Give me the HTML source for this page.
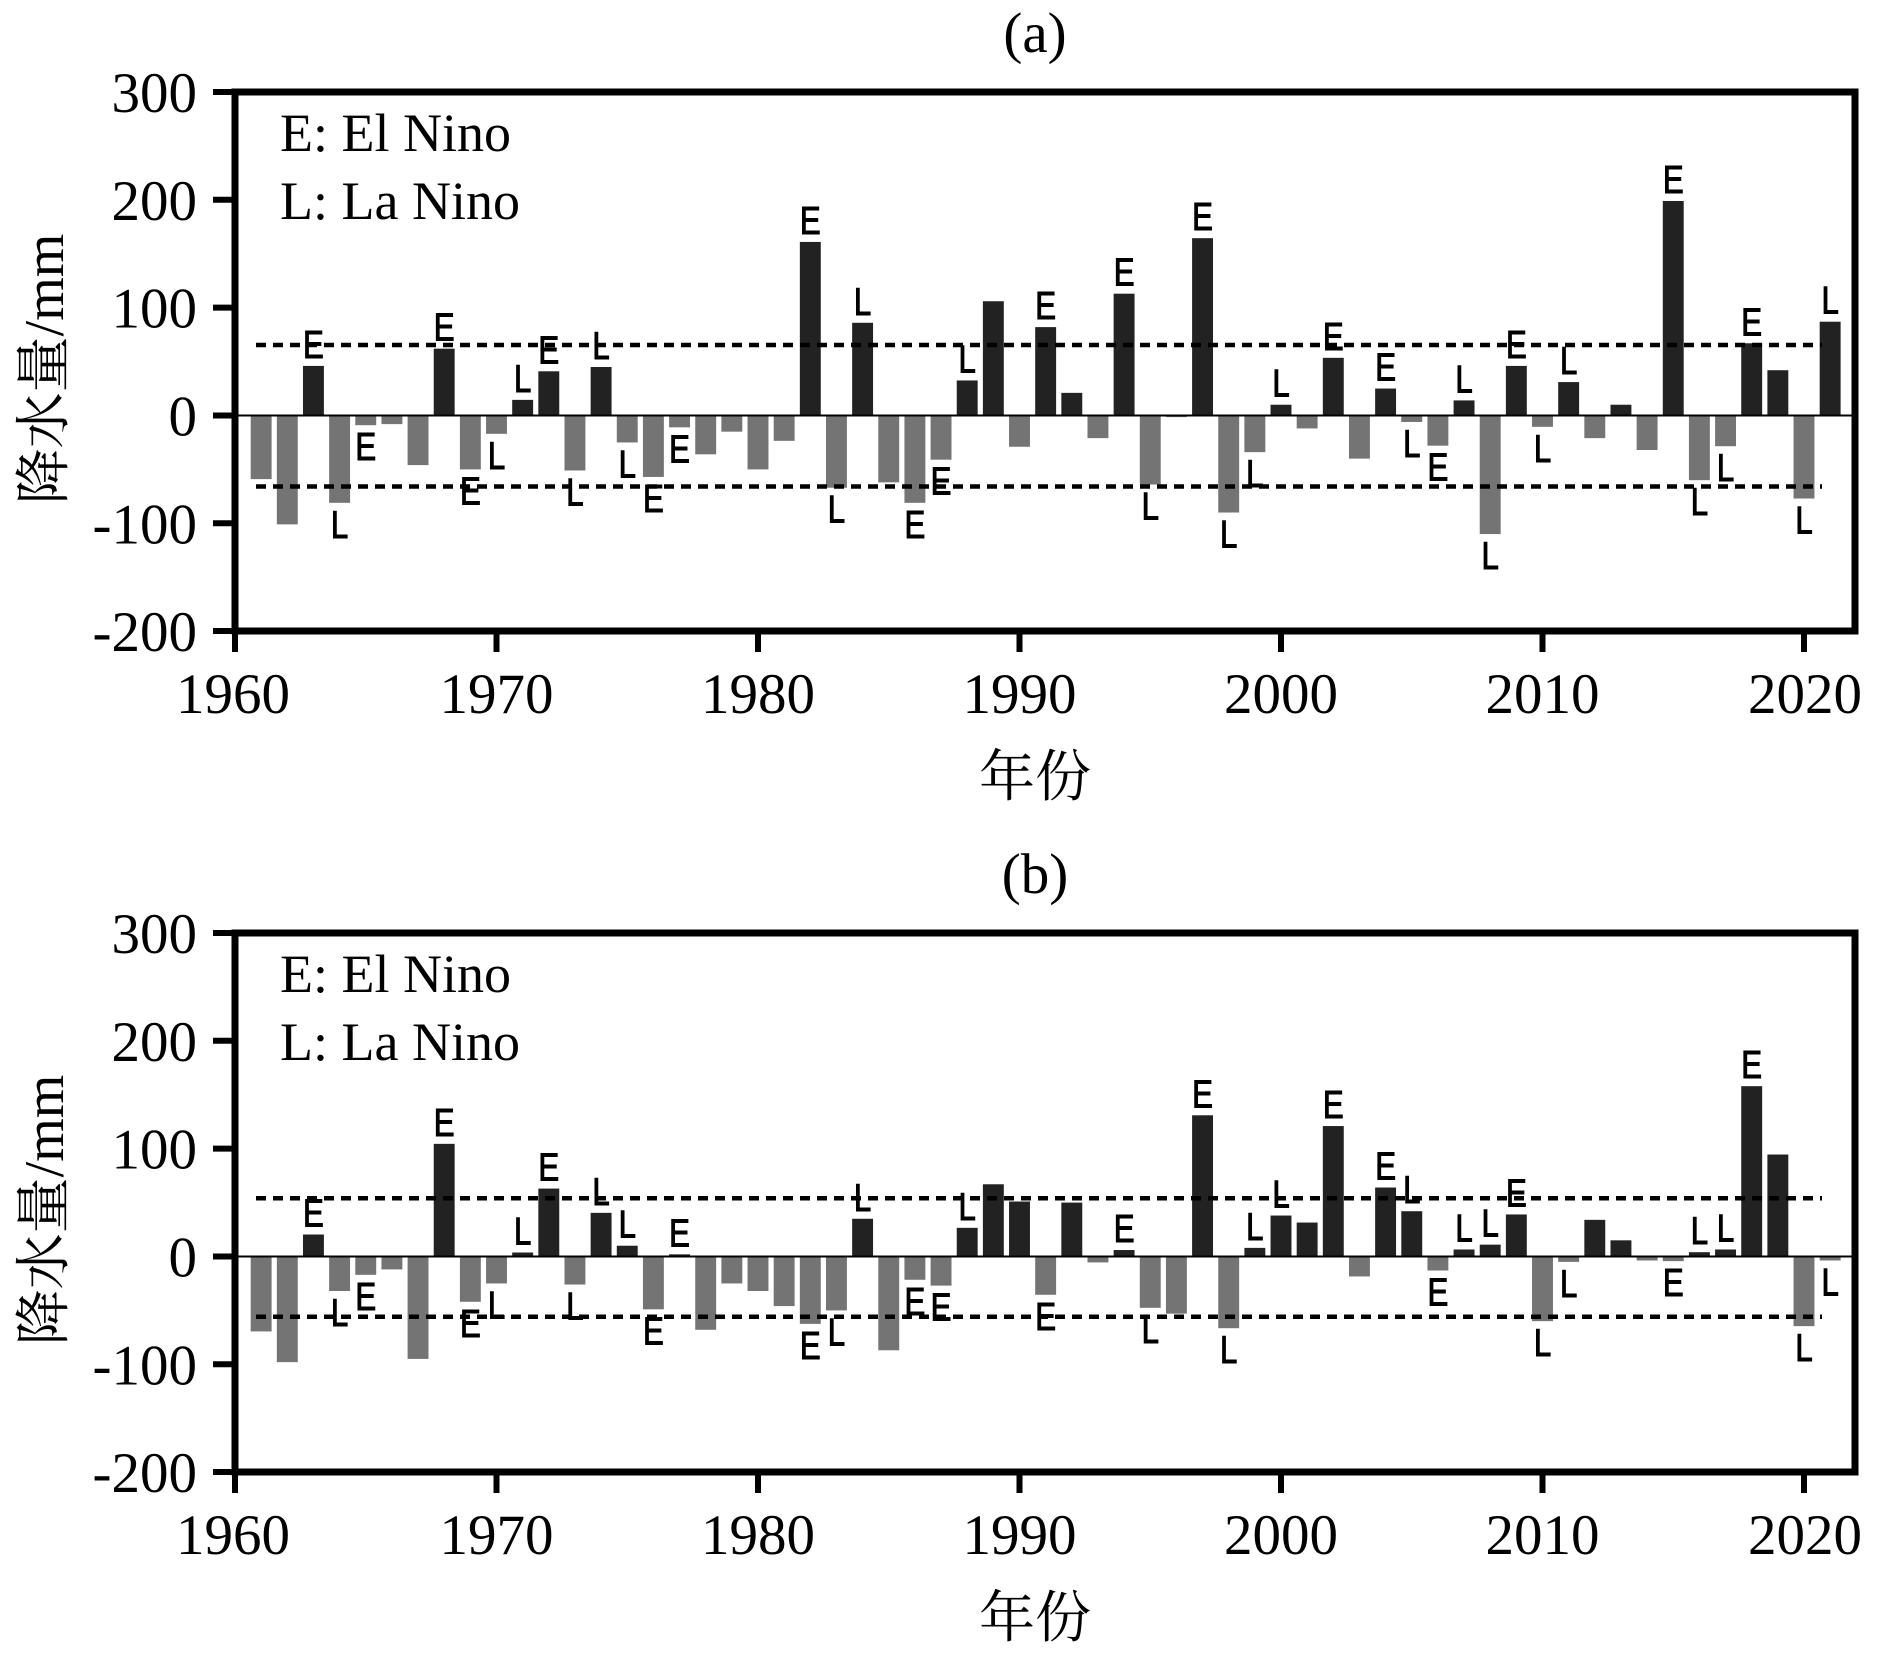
<!DOCTYPE html>
<html><head><meta charset="utf-8"><style>
html,body{margin:0;padding:0;background:#fff}
svg{display:block}
.p{fill:#222}
.n{fill:#747474}
.tk{font-family:"Liberation Serif","Noto Serif CJK SC",serif;font-size:57px;fill:#000}
.lg{font-family:"Liberation Serif",serif;font-size:54px;fill:#000}
.cj{font-family:"Liberation Serif","Noto Serif CJK SC",serif;font-size:56px;fill:#000}
.el{font-family:"Liberation Sans","DejaVu Sans",sans-serif;font-size:39px;fill:#000;stroke:#000;stroke-width:1.1px;text-anchor:middle}
</style></head><body>
<svg width="1882" height="1658" viewBox="0 0 1882 1658" xmlns="http://www.w3.org/2000/svg">
<rect width="1882" height="1658" fill="#fff"/>

<!-- ================= PANEL A ================= -->
<g>
<text x="1035" y="52" class="tk" font-size="55" text-anchor="middle">(a)</text>
<g transform="translate(235,415.5) scale(26.15,-1.078)">
<rect x="0.6" y="-59" width="0.8" height="59" class="n"/>
<rect x="1.6" y="-101" width="0.8" height="101" class="n"/>
<rect x="2.6" y="0" width="0.8" height="46" class="p"/>
<rect x="3.6" y="-81" width="0.8" height="81" class="n"/>
<rect x="4.6" y="-9" width="0.8" height="9" class="n"/>
<rect x="5.6" y="-8" width="0.8" height="8" class="n"/>
<rect x="6.6" y="-46" width="0.8" height="46" class="n"/>
<rect x="7.6" y="0" width="0.8" height="62" class="p"/>
<rect x="8.6" y="-50" width="0.8" height="50" class="n"/>
<rect x="9.6" y="-17" width="0.8" height="17" class="n"/>
<rect x="10.6" y="0" width="0.8" height="14.5" class="p"/>
<rect x="11.6" y="0" width="0.8" height="41" class="p"/>
<rect x="12.6" y="-51" width="0.8" height="51" class="n"/>
<rect x="13.6" y="0" width="0.8" height="45" class="p"/>
<rect x="14.6" y="-25" width="0.8" height="25" class="n"/>
<rect x="15.6" y="-57" width="0.8" height="57" class="n"/>
<rect x="16.6" y="-11" width="0.8" height="11" class="n"/>
<rect x="17.6" y="-36" width="0.8" height="36" class="n"/>
<rect x="18.6" y="-15" width="0.8" height="15" class="n"/>
<rect x="19.6" y="-50" width="0.8" height="50" class="n"/>
<rect x="20.6" y="-23.5" width="0.8" height="23.5" class="n"/>
<rect x="21.6" y="0" width="0.8" height="161" class="p"/>
<rect x="22.6" y="-67" width="0.8" height="67" class="n"/>
<rect x="23.6" y="0" width="0.8" height="86" class="p"/>
<rect x="24.6" y="-62" width="0.8" height="62" class="n"/>
<rect x="25.6" y="-81" width="0.8" height="81" class="n"/>
<rect x="26.6" y="-41" width="0.8" height="41" class="n"/>
<rect x="27.6" y="0" width="0.8" height="32.5" class="p"/>
<rect x="28.6" y="0" width="0.8" height="106" class="p"/>
<rect x="29.6" y="-29" width="0.8" height="29" class="n"/>
<rect x="30.6" y="0" width="0.8" height="82" class="p"/>
<rect x="31.6" y="0" width="0.8" height="21" class="p"/>
<rect x="32.6" y="-21" width="0.8" height="21" class="n"/>
<rect x="33.6" y="0" width="0.8" height="113" class="p"/>
<rect x="34.6" y="-64" width="0.8" height="64" class="n"/>
<rect x="35.6" y="-1.5" width="0.8" height="1.5" class="n"/>
<rect x="36.6" y="0" width="0.8" height="164.5" class="p"/>
<rect x="37.6" y="-90" width="0.8" height="90" class="n"/>
<rect x="38.6" y="-34" width="0.8" height="34" class="n"/>
<rect x="39.6" y="0" width="0.8" height="10" class="p"/>
<rect x="40.6" y="-12" width="0.8" height="12" class="n"/>
<rect x="41.6" y="0" width="0.8" height="53.5" class="p"/>
<rect x="42.6" y="-40" width="0.8" height="40" class="n"/>
<rect x="43.6" y="0" width="0.8" height="25" class="p"/>
<rect x="44.6" y="-6" width="0.8" height="6" class="n"/>
<rect x="45.6" y="-28" width="0.8" height="28" class="n"/>
<rect x="46.6" y="0" width="0.8" height="14" class="p"/>
<rect x="47.6" y="-110" width="0.8" height="110" class="n"/>
<rect x="48.6" y="0" width="0.8" height="46" class="p"/>
<rect x="49.6" y="-10.5" width="0.8" height="10.5" class="n"/>
<rect x="50.6" y="0" width="0.8" height="31" class="p"/>
<rect x="51.6" y="-21" width="0.8" height="21" class="n"/>
<rect x="52.6" y="0" width="0.8" height="10" class="p"/>
<rect x="53.6" y="-32" width="0.8" height="32" class="n"/>
<rect x="54.6" y="0" width="0.8" height="199" class="p"/>
<rect x="55.6" y="-60" width="0.8" height="60" class="n"/>
<rect x="56.6" y="-28.5" width="0.8" height="28.5" class="n"/>
<rect x="57.6" y="0" width="0.8" height="67" class="p"/>
<rect x="58.6" y="0" width="0.8" height="42" class="p"/>
<rect x="59.6" y="-77" width="0.8" height="77" class="n"/>
<rect x="60.6" y="0" width="0.8" height="87" class="p"/>
</g>
<line x1="238" y1="415.5" x2="1852" y2="415.5" stroke="#000" stroke-width="2"/>
<line x1="256" y1="345" x2="1822" y2="345" stroke="#000" stroke-width="4.5" stroke-dasharray="10 7"/>
<line x1="256" y1="486.5" x2="1822" y2="486.5" stroke="#000" stroke-width="4.5" stroke-dasharray="10 7"/>

<text class="el" transform="translate(313.45,357.9) scale(0.8,1)">E</text>
<text class="el" transform="translate(339.6,537.8) scale(0.8,1)">L</text>
<text class="el" transform="translate(365.75,460.2) scale(0.8,1)">E</text>
<text class="el" transform="translate(444.2,340.7) scale(0.8,1)">E</text>
<text class="el" transform="translate(470.35,504.4) scale(0.8,1)">E</text>
<text class="el" transform="translate(496.5,468.8) scale(0.8,1)">L</text>
<text class="el" transform="translate(522.65,391.9) scale(0.8,1)">L</text>
<text class="el" transform="translate(548.8,363.3) scale(0.8,1)">E</text>
<text class="el" transform="translate(574.95,505.5) scale(0.8,1)">L</text>
<text class="el" transform="translate(601.1,359) scale(0.8,1)">L</text>
<text class="el" transform="translate(627.25,477.5) scale(0.8,1)">L</text>
<text class="el" transform="translate(653.4,511.9) scale(0.8,1)">E</text>
<text class="el" transform="translate(679.55,462.4) scale(0.8,1)">E</text>
<text class="el" transform="translate(810.3,233.9) scale(0.8,1)">E</text>
<text class="el" transform="translate(836.45,522.7) scale(0.8,1)">L</text>
<text class="el" transform="translate(862.6,314.8) scale(0.8,1)">L</text>
<text class="el" transform="translate(914.9,537.8) scale(0.8,1)">E</text>
<text class="el" transform="translate(941.05,494.7) scale(0.8,1)">E</text>
<text class="el" transform="translate(967.2,372.5) scale(0.8,1)">L</text>
<text class="el" transform="translate(1045.65,319.1) scale(0.8,1)">E</text>
<text class="el" transform="translate(1124.1,285.7) scale(0.8,1)">E</text>
<text class="el" transform="translate(1150.25,519.5) scale(0.8,1)">L</text>
<text class="el" transform="translate(1202.55,230.2) scale(0.8,1)">E</text>
<text class="el" transform="translate(1228.7,547.5) scale(0.8,1)">L</text>
<text class="el" transform="translate(1254.85,487.2) scale(0.8,1)">L</text>
<text class="el" transform="translate(1281,396.7) scale(0.8,1)">L</text>
<text class="el" transform="translate(1333.3,349.8) scale(0.8,1)">E</text>
<text class="el" transform="translate(1385.6,380.5) scale(0.8,1)">E</text>
<text class="el" transform="translate(1411.75,457) scale(0.8,1)">L</text>
<text class="el" transform="translate(1437.9,480.7) scale(0.8,1)">E</text>
<text class="el" transform="translate(1464.05,392.4) scale(0.8,1)">L</text>
<text class="el" transform="translate(1490.2,569.1) scale(0.8,1)">L</text>
<text class="el" transform="translate(1516.35,357.9) scale(0.8,1)">E</text>
<text class="el" transform="translate(1542.5,461.8) scale(0.8,1)">L</text>
<text class="el" transform="translate(1568.65,374.1) scale(0.8,1)">L</text>
<text class="el" transform="translate(1673.25,193) scale(0.8,1)">E</text>
<text class="el" transform="translate(1699.4,515.2) scale(0.8,1)">L</text>
<text class="el" transform="translate(1725.55,481.2) scale(0.8,1)">L</text>
<text class="el" transform="translate(1751.7,335.3) scale(0.8,1)">E</text>
<text class="el" transform="translate(1804,533.5) scale(0.8,1)">L</text>
<text class="el" transform="translate(1830.15,313.7) scale(0.8,1)">L</text>

<rect x="235" y="92" width="1620" height="539" fill="none" stroke="#000" stroke-width="7"/>
<g stroke="#000" stroke-width="6">
<line x1="213" y1="92" x2="235" y2="92"/>
<line x1="213" y1="199.8" x2="235" y2="199.8"/>
<line x1="213" y1="307.6" x2="235" y2="307.6"/>
<line x1="213" y1="415.5" x2="235" y2="415.5"/>
<line x1="213" y1="523.3" x2="235" y2="523.3"/>
<line x1="213" y1="631" x2="235" y2="631"/>
<line x1="235" y1="631" x2="235" y2="652"/>
<line x1="496.5" y1="631" x2="496.5" y2="652"/>
<line x1="758" y1="631" x2="758" y2="652"/>
<line x1="1019.5" y1="631" x2="1019.5" y2="652"/>
<line x1="1281" y1="631" x2="1281" y2="652"/>
<line x1="1542.5" y1="631" x2="1542.5" y2="652"/>
<line x1="1804" y1="631" x2="1804" y2="652"/>
</g>
<g class="tk" text-anchor="end">
<text x="197" y="112">300</text>
<text x="197" y="219.8">200</text>
<text x="197" y="327.6">100</text>
<text x="197" y="435.5">0</text>
<text x="197" y="543.3">-100</text>
<text x="197" y="651">-200</text>
</g>
<g class="tk" text-anchor="middle">
<text x="233" y="713">1960</text>
<text x="496.5" y="713">1970</text>
<text x="758" y="713">1980</text>
<text x="1019.5" y="713">1990</text>
<text x="1281" y="713">2000</text>
<text x="1542.5" y="713">2010</text>
<text x="1805" y="713">2020</text>
</g>
<text x="280" y="151" class="lg">E: El Nino</text>
<text x="280" y="219" class="lg">L: La Nino</text>
<text x="1035" y="796" class="cj" text-anchor="middle">年份</text>
<text class="cj" text-anchor="middle" transform="translate(63,369) rotate(-90)">降水量/mm</text>
</g>

<!-- ================= PANEL B ================= -->
<g transform="translate(0,841)">
<text x="1035" y="52" class="tk" font-size="55" text-anchor="middle">(b)</text>
<g transform="translate(235,415.5) scale(26.15,-1.078)">
<rect x="0.6" y="-69.5" width="0.8" height="69.5" class="n"/>
<rect x="1.6" y="-98" width="0.8" height="98" class="n"/>
<rect x="2.6" y="0" width="0.8" height="20.4" class="p"/>
<rect x="3.6" y="-32" width="0.8" height="32" class="n"/>
<rect x="4.6" y="-17" width="0.8" height="17" class="n"/>
<rect x="5.6" y="-12" width="0.8" height="12" class="n"/>
<rect x="6.6" y="-95" width="0.8" height="95" class="n"/>
<rect x="7.6" y="0" width="0.8" height="104.5" class="p"/>
<rect x="8.6" y="-42" width="0.8" height="42" class="n"/>
<rect x="9.6" y="-25" width="0.8" height="25" class="n"/>
<rect x="10.6" y="0" width="0.8" height="3.7" class="p"/>
<rect x="11.6" y="0" width="0.8" height="63" class="p"/>
<rect x="12.6" y="-26" width="0.8" height="26" class="n"/>
<rect x="13.6" y="0" width="0.8" height="40.5" class="p"/>
<rect x="14.6" y="0" width="0.8" height="10" class="p"/>
<rect x="15.6" y="-49" width="0.8" height="49" class="n"/>
<rect x="16.6" y="0" width="0.8" height="2" class="p"/>
<rect x="17.6" y="-68" width="0.8" height="68" class="n"/>
<rect x="18.6" y="-25" width="0.8" height="25" class="n"/>
<rect x="19.6" y="-32" width="0.8" height="32" class="n"/>
<rect x="20.6" y="-46" width="0.8" height="46" class="n"/>
<rect x="21.6" y="-62.5" width="0.8" height="62.5" class="n"/>
<rect x="22.6" y="-50" width="0.8" height="50" class="n"/>
<rect x="23.6" y="0" width="0.8" height="35" class="p"/>
<rect x="24.6" y="-87" width="0.8" height="87" class="n"/>
<rect x="25.6" y="-21.6" width="0.8" height="21.6" class="n"/>
<rect x="26.6" y="-27" width="0.8" height="27" class="n"/>
<rect x="27.6" y="0" width="0.8" height="26.6" class="p"/>
<rect x="28.6" y="0" width="0.8" height="67" class="p"/>
<rect x="29.6" y="0" width="0.8" height="51" class="p"/>
<rect x="30.6" y="-35.5" width="0.8" height="35.5" class="n"/>
<rect x="31.6" y="0" width="0.8" height="50" class="p"/>
<rect x="32.6" y="-5.5" width="0.8" height="5.5" class="n"/>
<rect x="33.6" y="0" width="0.8" height="6" class="p"/>
<rect x="34.6" y="-47.6" width="0.8" height="47.6" class="n"/>
<rect x="35.6" y="-53" width="0.8" height="53" class="n"/>
<rect x="36.6" y="0" width="0.8" height="131" class="p"/>
<rect x="37.6" y="-66.5" width="0.8" height="66.5" class="n"/>
<rect x="38.6" y="0" width="0.8" height="8" class="p"/>
<rect x="39.6" y="0" width="0.8" height="38" class="p"/>
<rect x="40.6" y="0" width="0.8" height="31.5" class="p"/>
<rect x="41.6" y="0" width="0.8" height="121" class="p"/>
<rect x="42.6" y="-18.5" width="0.8" height="18.5" class="n"/>
<rect x="43.6" y="0" width="0.8" height="64" class="p"/>
<rect x="44.6" y="0" width="0.8" height="42" class="p"/>
<rect x="45.6" y="-13" width="0.8" height="13" class="n"/>
<rect x="46.6" y="0" width="0.8" height="6.5" class="p"/>
<rect x="47.6" y="0" width="0.8" height="11" class="p"/>
<rect x="48.6" y="0" width="0.8" height="39" class="p"/>
<rect x="49.6" y="-60" width="0.8" height="60" class="n"/>
<rect x="50.6" y="-5" width="0.8" height="5" class="n"/>
<rect x="51.6" y="0" width="0.8" height="34" class="p"/>
<rect x="52.6" y="0" width="0.8" height="15" class="p"/>
<rect x="53.6" y="-3.7" width="0.8" height="3.7" class="n"/>
<rect x="54.6" y="-4.3" width="0.8" height="4.3" class="n"/>
<rect x="55.6" y="0" width="0.8" height="4" class="p"/>
<rect x="56.6" y="0" width="0.8" height="6.5" class="p"/>
<rect x="57.6" y="0" width="0.8" height="158" class="p"/>
<rect x="58.6" y="0" width="0.8" height="94.6" class="p"/>
<rect x="59.6" y="-64.6" width="0.8" height="64.6" class="n"/>
<rect x="60.6" y="-3.7" width="0.8" height="3.7" class="n"/>
</g>
<line x1="238" y1="415.5" x2="1852" y2="415.5" stroke="#000" stroke-width="2"/>
<line x1="256" y1="357.3" x2="1822" y2="357.3" stroke="#000" stroke-width="4.5" stroke-dasharray="10 7"/>
<line x1="256" y1="475.7" x2="1822" y2="475.7" stroke="#000" stroke-width="4.5" stroke-dasharray="10 7"/>

<text class="el" transform="translate(313.45,385.5) scale(0.8,1)">E</text>
<text class="el" transform="translate(339.6,485) scale(0.8,1)">L</text>
<text class="el" transform="translate(365.75,468.8) scale(0.8,1)">E</text>
<text class="el" transform="translate(444.2,294.8) scale(0.8,1)">E</text>
<text class="el" transform="translate(470.35,495.8) scale(0.8,1)">E</text>
<text class="el" transform="translate(496.5,477.5) scale(0.8,1)">L</text>
<text class="el" transform="translate(522.65,403.5) scale(0.8,1)">L</text>
<text class="el" transform="translate(548.8,339.6) scale(0.8,1)">E</text>
<text class="el" transform="translate(574.95,478.5) scale(0.8,1)">L</text>
<text class="el" transform="translate(601.1,363.8) scale(0.8,1)">L</text>
<text class="el" transform="translate(627.25,396.7) scale(0.8,1)">L</text>
<text class="el" transform="translate(653.4,503.3) scale(0.8,1)">E</text>
<text class="el" transform="translate(679.55,405.3) scale(0.8,1)">E</text>
<text class="el" transform="translate(810.3,517.9) scale(0.8,1)">E</text>
<text class="el" transform="translate(836.45,504.4) scale(0.8,1)">L</text>
<text class="el" transform="translate(862.6,369.8) scale(0.8,1)">L</text>
<text class="el" transform="translate(914.9,473.8) scale(0.8,1)">E</text>
<text class="el" transform="translate(941.05,479.6) scale(0.8,1)">E</text>
<text class="el" transform="translate(967.2,378.8) scale(0.8,1)">L</text>
<text class="el" transform="translate(1045.65,488.8) scale(0.8,1)">E</text>
<text class="el" transform="translate(1124.1,401) scale(0.8,1)">E</text>
<text class="el" transform="translate(1150.25,501.8) scale(0.8,1)">L</text>
<text class="el" transform="translate(1202.55,266.3) scale(0.8,1)">E</text>
<text class="el" transform="translate(1228.7,522.2) scale(0.8,1)">L</text>
<text class="el" transform="translate(1254.85,398.9) scale(0.8,1)">L</text>
<text class="el" transform="translate(1281,366.5) scale(0.8,1)">L</text>
<text class="el" transform="translate(1333.3,277.1) scale(0.8,1)">E</text>
<text class="el" transform="translate(1385.6,338.5) scale(0.8,1)">E</text>
<text class="el" transform="translate(1411.75,362.2) scale(0.8,1)">L</text>
<text class="el" transform="translate(1437.9,464.5) scale(0.8,1)">E</text>
<text class="el" transform="translate(1464.05,400.5) scale(0.8,1)">L</text>
<text class="el" transform="translate(1490.2,395.6) scale(0.8,1)">L</text>
<text class="el" transform="translate(1516.35,365.5) scale(0.8,1)">E</text>
<text class="el" transform="translate(1542.5,515.2) scale(0.8,1)">L</text>
<text class="el" transform="translate(1568.65,455.9) scale(0.8,1)">L</text>
<text class="el" transform="translate(1673.25,455.1) scale(0.8,1)">E</text>
<text class="el" transform="translate(1699.4,403.2) scale(0.8,1)">L</text>
<text class="el" transform="translate(1725.55,400.5) scale(0.8,1)">L</text>
<text class="el" transform="translate(1751.7,237.2) scale(0.8,1)">E</text>
<text class="el" transform="translate(1804,520.1) scale(0.8,1)">L</text>
<text class="el" transform="translate(1830.15,454.5) scale(0.8,1)">L</text>

<rect x="235" y="92" width="1620" height="539" fill="none" stroke="#000" stroke-width="7"/>
<g stroke="#000" stroke-width="6">
<line x1="213" y1="92" x2="235" y2="92"/>
<line x1="213" y1="199.8" x2="235" y2="199.8"/>
<line x1="213" y1="307.6" x2="235" y2="307.6"/>
<line x1="213" y1="415.5" x2="235" y2="415.5"/>
<line x1="213" y1="523.3" x2="235" y2="523.3"/>
<line x1="213" y1="631" x2="235" y2="631"/>
<line x1="235" y1="631" x2="235" y2="652"/>
<line x1="496.5" y1="631" x2="496.5" y2="652"/>
<line x1="758" y1="631" x2="758" y2="652"/>
<line x1="1019.5" y1="631" x2="1019.5" y2="652"/>
<line x1="1281" y1="631" x2="1281" y2="652"/>
<line x1="1542.5" y1="631" x2="1542.5" y2="652"/>
<line x1="1804" y1="631" x2="1804" y2="652"/>
</g>
<g class="tk" text-anchor="end">
<text x="197" y="112">300</text>
<text x="197" y="219.8">200</text>
<text x="197" y="327.6">100</text>
<text x="197" y="435.5">0</text>
<text x="197" y="543.3">-100</text>
<text x="197" y="651">-200</text>
</g>
<g class="tk" text-anchor="middle">
<text x="233" y="713">1960</text>
<text x="496.5" y="713">1970</text>
<text x="758" y="713">1980</text>
<text x="1019.5" y="713">1990</text>
<text x="1281" y="713">2000</text>
<text x="1542.5" y="713">2010</text>
<text x="1805" y="713">2020</text>
</g>
<text x="280" y="151" class="lg">E: El Nino</text>
<text x="280" y="219" class="lg">L: La Nino</text>
<text x="1035" y="796" class="cj" text-anchor="middle">年份</text>
<text class="cj" text-anchor="middle" transform="translate(63,369) rotate(-90)">降水量/mm</text>
</g>
</svg>
</body></html>
